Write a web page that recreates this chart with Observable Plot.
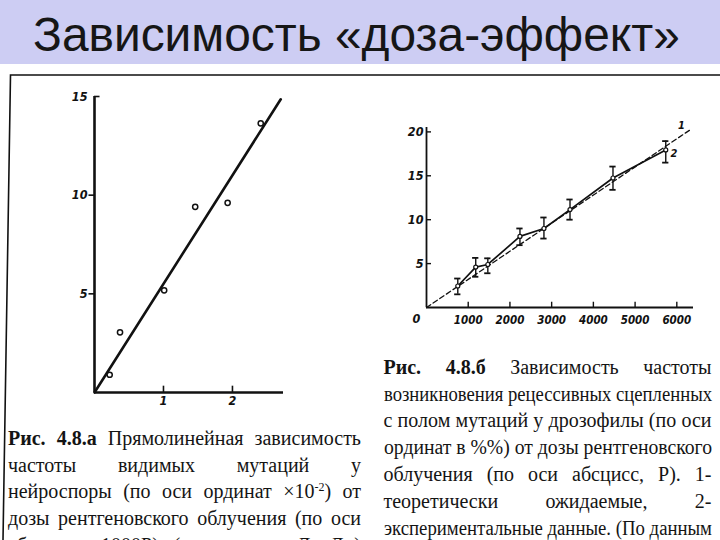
<!DOCTYPE html>
<html><head><meta charset="utf-8">
<script src="https://cdn.jsdelivr.net/npm/d3@7"></script>
<script src="https://cdn.jsdelivr.net/npm/@observablehq/plot@0.6"></script>
<style>
body{margin:0;background:#fff;}
#page{position:relative;width:720px;height:540px;overflow:hidden;background:#fff;}
#band{position:absolute;left:0;top:0;width:720px;height:64px;background:#cdcdf3;}
.ln{position:absolute;white-space:nowrap;font-family:"Liberation Serif","Times New Roman",serif;font-size:20px;color:#141414;line-height:1;}
.ttl{position:absolute;white-space:nowrap;font-family:"Liberation Sans",Arial,sans-serif;color:#161616;line-height:1;}
.chart{position:absolute;}
.chart svg text{font-style:italic;}
</style></head>
<body><div id="page"><div id="band"></div></div>
<script>
// ---------- data ----------
const titleText = "Зависимость «доза-эффект»";

// Fig. 4.8.a  (Neurospora, dose ×1000 R vs mutations ×10^-2)
const aDose = [0.22, 0.37, 1.01, 1.46, 1.93, 2.41];
const aMut  = [0.90, 3.05, 5.18, 9.41, 9.61, 13.64];
const aFitDose = [0, 2.70];
const aFitMut  = [0, 14.86];
const aTicksX = [1, 2];
const aTicksY = [5, 10, 15];

// Fig. 4.8.b  (Drosophila, dose R vs %)
const bDose = [750, 1180, 1470, 2240, 2815, 3440, 4470, 5735];
const bFreq = [2.45, 4.6, 4.9, 8.1, 9.0, 11.15, 14.75, 17.95];
const bLow  = [1.5, 3.5, 3.9, 7.1, 7.85, 10.0, 13.4, 16.5];
const bHigh = [3.3, 5.65, 5.6, 9.0, 10.25, 12.3, 16.05, 18.95];
const bTheoryDose = [0, 6340];
const bTheoryFreq = [0, 20.3];
const bTicksX = [1000, 2000, 3000, 4000, 5000, 6000];
const bTicksY = [5, 10, 15, 20];
const bSeriesLabels = ["1", "2"];
const bSeriesLabelDose = [6110, 5930];
const bSeriesLabelFreq = [20.75, 17.5];

const captionA = [
  "<b>Рис. 4.8.а</b> Прямолинейная зависимость",
  "частоты видимых мутаций у",
  "нейроспоры (по оси ординат ×10<span style=\"font-size:12px;position:relative;top:-7px\">-2</span>) от",
  "дозы рентгеновского облучения (по оси",
  "абсцисс ×1000Р) (по данным Д. Ли)"
];
const captionB = [
  "<b>Рис. 4.8.б</b> Зависимость частоты",
  "возникновения рецессивных сцепленных",
  "с полом мутаций у дрозофилы (по оси",
  "ординат в %%) от дозы рентгеновского",
  "облучения (по оси абсцисс, Р). 1-",
  "теоретически ожидаемые, 2-",
  "экспериментальные данные. (По данным"
];

// ---------- helpers ----------
const page = document.getElementById("page");
function addLine(cls, html, x, baseline, w, asc) {
  const d = document.createElement("div");
  d.className = cls;
  d.innerHTML = html;
  d.style.left = x + "px";
  d.style.top = (baseline - asc) + "px";
  page.appendChild(d);
  const nat = d.getBoundingClientRect().width;
  const spaces = (d.textContent.match(/ /g) || []).length;
  if (nat < w && spaces > 0) d.style.wordSpacing = ((w - nat) / spaces) + "px";
  else if (nat > w) { d.style.transformOrigin = "0 0"; d.style.transform = `scaleX(${w / nat})`; }
}

// title: size fitted to the reference width
(function () {
  const d = document.createElement("div");
  d.className = "ttl";
  d.textContent = titleText;
  d.style.fontSize = "46px";
  page.appendChild(d);
  const nat = d.getBoundingClientRect().width;
  const fs = 46 * 647 / nat;
  d.style.fontSize = fs + "px";
  // line-height 1 -> baseline offset approx 0.905em - half leading
  const asc = fs * (0.905 - (1.117 - 1) / 2);
  d.style.left = "33px";
  d.style.top = (52 - asc) + "px";
})();

// frame
const ns = "http://www.w3.org/2000/svg";
const fr = document.createElementNS(ns, "svg");
fr.setAttribute("width", 720); fr.setAttribute("height", 540);
fr.style.position = "absolute"; fr.style.left = "0"; fr.style.top = "0";
fr.innerHTML = '<path d="M720,75 L10.5,75 L3,540" fill="none" stroke="#111" stroke-width="1.6"/>';
page.appendChild(fr);

// captions
captionA.forEach((t, i) => addLine("ln", t, 8, 445 + i * 26.6, 353, 16.75));
captionB.forEach((t, i) => addLine("ln", t, 383.5, 373.5 + i * 26.8, 328, 16.75));

const tickFont = {
  fontFamily: '"Liberation Sans Narrow","DejaVu Sans Condensed","Liberation Sans",sans-serif',
  fontStyle: "italic", fontWeight: "bold", fontSize: 12.5
};
const fmt = d => String(d);

// ---------- chart A ----------
const aPoints = aDose.map((x, i) => ({x, y: aMut[i]}));
const aFit = aFitDose.map((x, i) => ({x, y: aFitMut[i]}));
const xMaxA = 2.74;
const plotA = Plot.plot({
  width: 263, height: 350,
  marginTop: 16, marginRight: 20, marginBottom: 38, marginLeft: 54,
  x: {domain: [0, xMaxA], label: null},
  y: {domain: [0, d3.max(aTicksY)], label: null},
  style: {background: "transparent", color: "#111", overflow: "visible", fontStyle: "italic"},
  marks: [
    Plot.ruleY(aTicksY.slice(0, -1), {x1: -0.08, x2: 0, strokeWidth: 1.6}),
    Plot.ruleY(aTicksY.slice(-1), {x1: 0, x2: 0.08, strokeWidth: 1.6}),
    Plot.ruleX(aTicksX, {y1: 0, y2: 0.32, strokeWidth: 1.6}),
    Plot.ruleX([0], {y1: 0, y2: d3.max(aTicksY), strokeWidth: 2.6}),
    Plot.ruleY([0], {x1: 0, x2: xMaxA, strokeWidth: 2.4}),
    Plot.line(aFit, {x: "x", y: "y", stroke: "#111", strokeWidth: 2.6}),
    Plot.dot(aPoints, {x: "x", y: "y", r: 2.6, fill: "white", stroke: "#111", strokeWidth: 1.5}),
    Plot.axisY(aTicksY, {tickSize: 0, tickPadding: 7, label: null, tickFormat: fmt, ...tickFont}),
    Plot.axisX(aTicksX, {tickSize: 0, tickPadding: 4, label: null, tickFormat: fmt, ...tickFont})
  ]
});
const wa = document.createElement("div");
wa.className = "chart"; wa.style.left = "40px"; wa.style.top = "80px";
wa.appendChild(plotA); page.appendChild(wa);

// ---------- chart B ----------
const bPoints = bDose.map((x, i) => ({x, y: bFreq[i], lo: bLow[i], hi: bHigh[i]}));
const bTheory = bTheoryDose.map((x, i) => ({x, y: bTheoryFreq[i]}));
const bLabels = bSeriesLabels.map((t, i) => ({t, x: bSeriesLabelDose[i], y: bSeriesLabelFreq[i]}));
const xMaxB = 6400, yMaxB = 20.5, cap = 75;
const plotB = Plot.plot({
  width: 333, height: 240,
  marginTop: 27, marginRight: 20, marginBottom: 33, marginLeft: 46,
  x: {domain: [0, xMaxB], label: null},
  y: {domain: [0, yMaxB], label: null},
  style: {background: "transparent", color: "#111", overflow: "visible", fontStyle: "italic"},
  marks: [
    Plot.ruleY(bTicksY, {x1: 0, x2: 120, strokeWidth: 1.4}),
    Plot.ruleX(bTicksX, {y1: 0, y2: 0.6, strokeWidth: 1.4}),
    Plot.ruleX([0], {y1: 0, y2: yMaxB, strokeWidth: 1.8}),
    Plot.ruleY([0], {x1: 0, x2: xMaxB, strokeWidth: 2}),
    Plot.line(bTheory, {x: "x", y: "y", stroke: "#111", strokeWidth: 1.3, strokeDasharray: "5,3"}),
    Plot.line(bPoints, {x: "x", y: "y", stroke: "#111", strokeWidth: 1.7}),
    Plot.ruleX(bPoints, {x: "x", y1: "lo", y2: "hi", strokeWidth: 1.4}),
    Plot.ruleY(bPoints, {y: "hi", x1: d => d.x - cap, x2: d => d.x + cap, strokeWidth: 1.8}),
    Plot.ruleY(bPoints, {y: "lo", x1: d => d.x - cap, x2: d => d.x + cap, strokeWidth: 1.8}),
    Plot.dot(bPoints, {x: "x", y: "y", r: 2, fill: "white", stroke: "#111", strokeWidth: 1.2}),
    Plot.text(bLabels, {x: "x", y: "y", text: "t", ...tickFont, fontSize: 11}),
    Plot.text([0], {x: 0, y: 0, text: () => "0", dx: -10, dy: 11, ...tickFont}),
    Plot.axisY(bTicksY, {tickSize: 0, tickPadding: 3, label: null, tickFormat: fmt, ...tickFont}),
    Plot.axisX(bTicksX, {tickSize: 0, tickPadding: 8, label: null, tickFormat: fmt, ...tickFont, fontSize: 11.5})
  ]
});
const wb = document.createElement("div");
wb.className = "chart"; wb.style.left = "380px"; wb.style.top = "100px";
wb.appendChild(plotB); page.appendChild(wb);
</script>
</body></html>
